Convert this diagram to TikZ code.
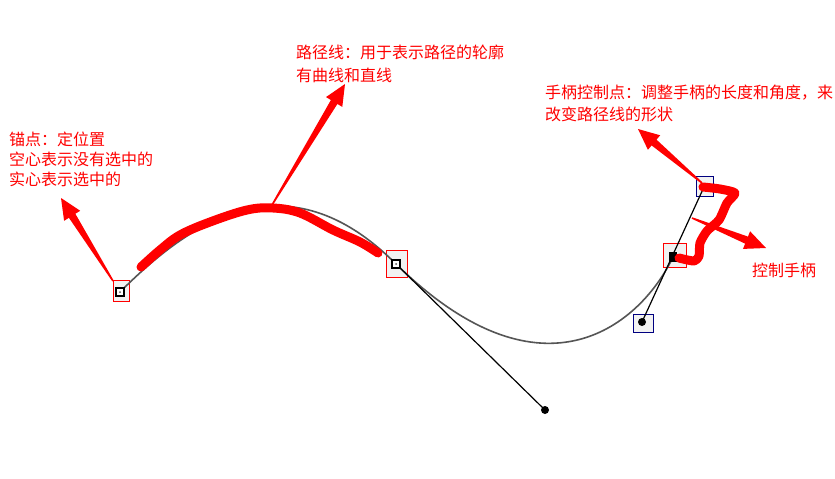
\documentclass[tikz,border=0pt]{standalone}
\usepackage{fontspec}
\newfontfamily\cjk{Noto Sans CJK SC}
\usetikzlibrary{calc}
\definecolor{curvegray}{HTML}{555555}
\definecolor{boxblue}{HTML}{000080}
\tikzset{
  lbl/.style={anchor=base west, inner sep=0pt, text=red, font=\cjk\fontsize{16}{20}\selectfont},
  redbox/.style={draw=red, line width=1pt, inner sep=0pt, fill=black!5},
  bluebox/.style={draw=boxblue, line width=1pt, inner sep=0pt, fill=black!5},
  hollowpt/.style={draw=black, line width=2.2pt, fill=white, inner sep=0pt, minimum size=8pt},
  solidpt/.style={fill=black, inner sep=0pt, minimum width=8pt, minimum height=10pt},
  handledot/.style={circle, fill=black, inner sep=0pt, minimum size=8pt},
  pathcurve/.style={draw=curvegray, line width=1.6pt},
  handleline/.style={draw=black, line width=1.2pt},
  scribble/.style={draw=red, line width=9pt, line cap=round, line join=round},
}
\newcommand\taper[2]{%
  \coordinate (tS) at (#1); \coordinate (tT) at (#2);
  \coordinate (tB) at ($(tT)!21pt!(tS)$);
  \fill[red] ($(tS)!0.8pt!90:(tT)$) -- ($(tB)!3.8pt!90:(tT)$) -- ($(tB)!9.5pt!90:(tT)$)
    -- (tT) -- ($(tB)!9.5pt!-90:(tT)$) -- ($(tB)!3.8pt!-90:(tT)$) -- ($(tS)!0.8pt!-90:(tT)$) -- cycle;}
\begin{document}
\begin{tikzpicture}[x=1pt,y=-1pt]
\useasboundingbox (0,0) rectangle (835,479);
\fill[white] (0,0) rectangle (835,479);

% selection boxes
\node[redbox, minimum width=16pt, minimum height=21pt] (B1) at (121,290.5) {};
\node[redbox, minimum width=21pt, minimum height=27pt] (B2) at (396.5,263.5) {};
\node[redbox, minimum width=23pt, minimum height=24pt] (B3) at (674.5,255) {};
\node[bluebox, minimum width=17pt, minimum height=20pt] (B4) at (704.5,186) {};
\node[bluebox, minimum width=20pt, minimum height=18pt] (B5) at (643,323) {};

% key coordinates
\coordinate (A1) at (120,292);
\coordinate (A2) at (396,264);
\coordinate (A3) at (673,257);
\coordinate (H2) at (545,410);
\coordinate (H3a) at (642,322);
\coordinate (H3b) at (704,187);

% path curve
\draw[pathcurve] (A1) .. controls (190,222) and (286,154) .. (A2)
  .. controls (H2) and (H3a) .. (A3);
% handles
\draw[handleline] (A2) -- (H2);
\draw[handleline] (H3a) -- (H3b);

% points
\node[hollowpt] (P1) at (A1) {};
\node[hollowpt] (P2) at (A2) {};
\fill[curvegray] (A1) circle (1pt);
\fill[curvegray] (A2) circle (1pt);
\node[solidpt] (P3) at (A3) {};
\node[handledot] (D2) at (H2) {};
\node[handledot] (D3a) at (H3a) {};
\node[handledot] (D3b) at (H3b) {};

% red scribbles
\draw[scribble] plot[smooth, tension=0.6] coordinates {(141,267) (160,250) (180,235) (210,222) (247,210) (273,208) (300,213) (333,230) (360,242) (378,253)};
\draw[scribble] plot[smooth, tension=0.4] coordinates {(703,187) (720,189) (735,193) (727,203) (719,220) (707,231) (700,243) (699,256) (694,261) (679,258)};

% labels
\node[lbl] (t1a) at (9,145) {锚点：定位置};
\node[lbl] (t1b) at (9,165) {空心表示没有选中的};
\node[lbl] (t1c) at (9,185) {实心表示选中的};
\node[lbl] (t2a) at (296,58) {路径线：用于表示路径的轮廓};
\node[lbl] (t2b) at (296,81) {有曲线和直线};
\node[lbl] (t3a) at (545,98) {手柄控制点：调整手柄的长度和角度，来};
\node[lbl] (t3b) at (545,120) {改变路径线的形状};
\node[lbl] (t4) at (752,276) {控制手柄};

% arrows
\coordinate (s1) at (113,281); \coordinate (e1) at (61,198);
\coordinate (s2) at (272,205); \coordinate (e2) at (345,84);
\coordinate (s3) at (702,183); \coordinate (e3) at (638,129);
\coordinate (s4) at (692,218); \coordinate (e4) at (766,248);
\taper{s1}{e1}
\taper{s2}{e2}
\taper{s3}{e3}
\taper{s4}{e4}
\end{tikzpicture}
\end{document}
